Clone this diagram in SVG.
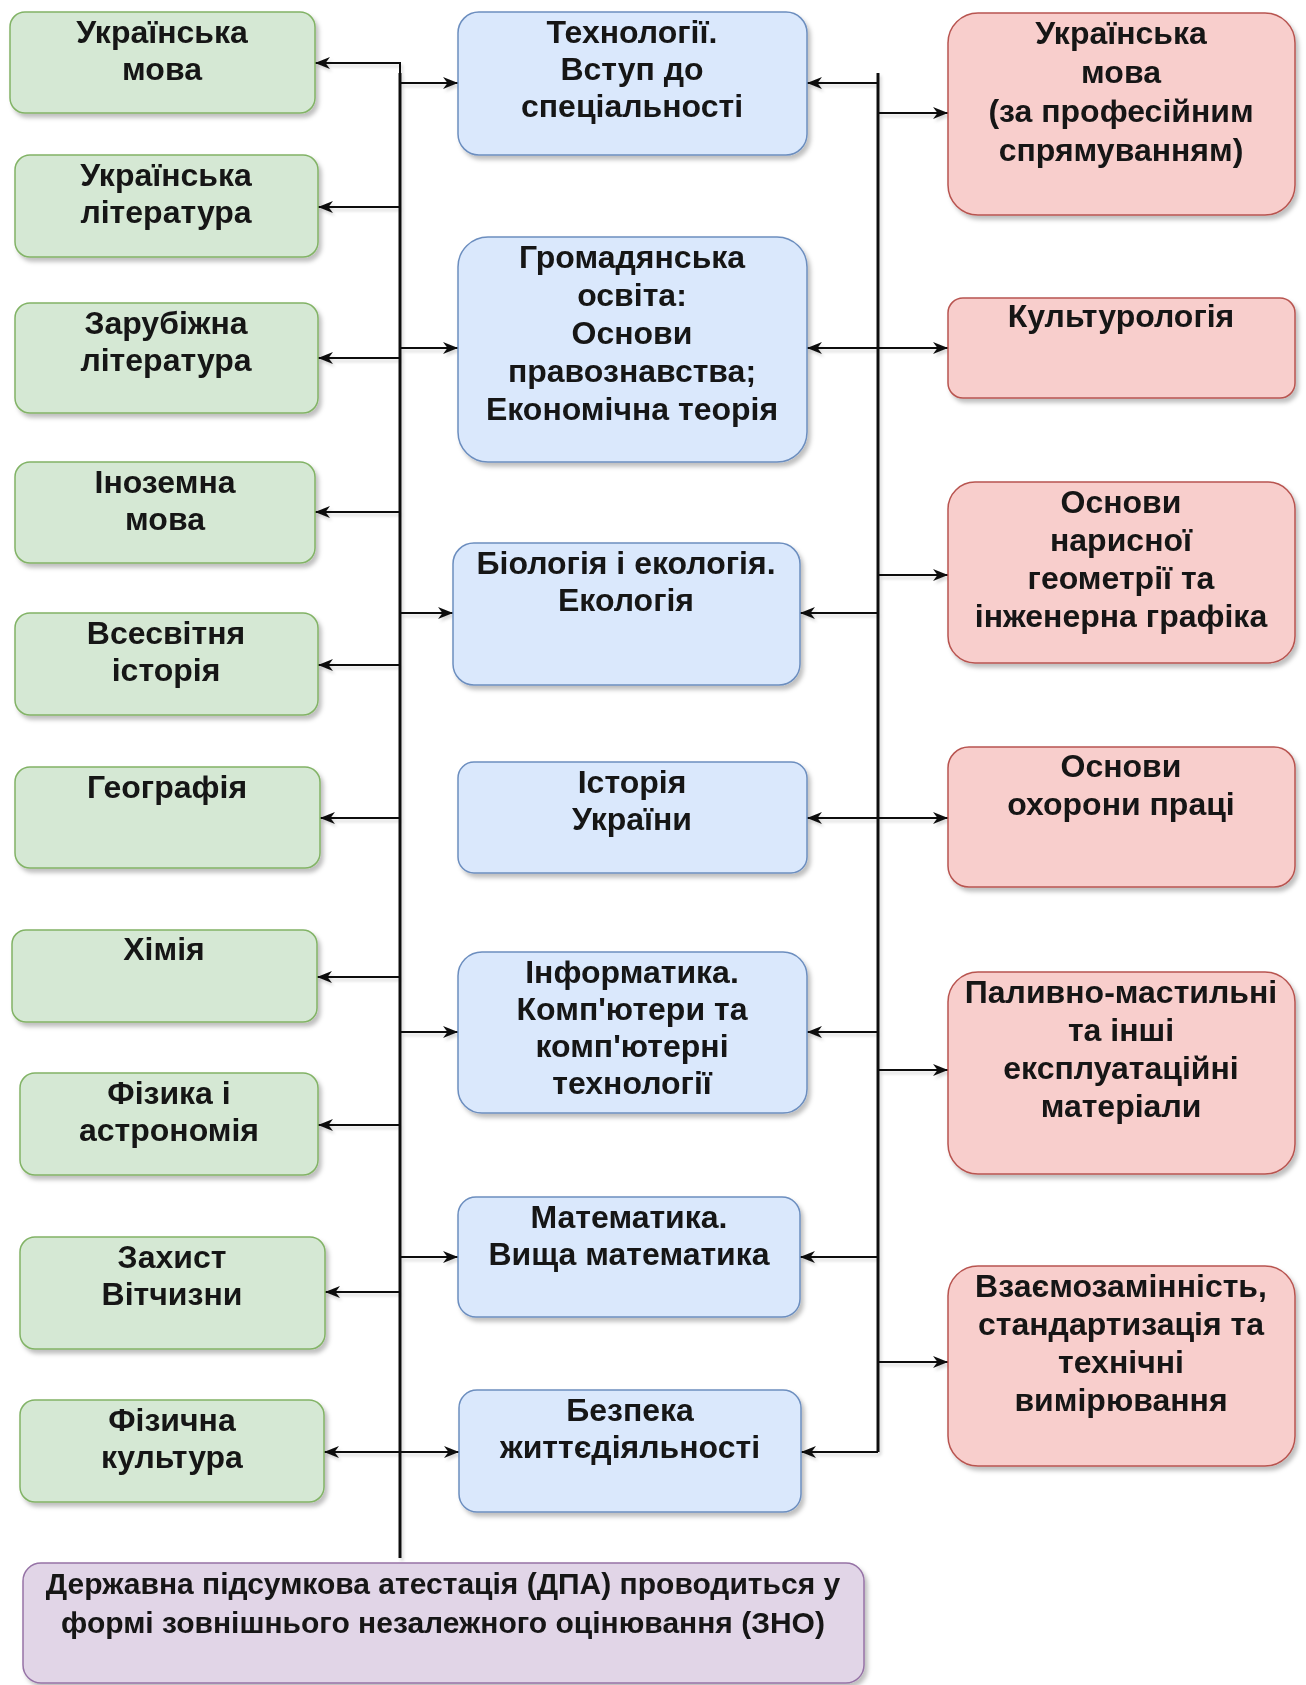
<svg xmlns="http://www.w3.org/2000/svg" width="1306" height="1685" viewBox="0 0 1306 1685">
<style>
text{font-family:"Liberation Sans",Arial,sans-serif;font-weight:bold;font-size:32px;fill:#151515;text-anchor:middle}
.g{fill:#d5e8d4;stroke:#82b366;stroke-width:1.5}
.b{fill:#dae8fc;stroke:#6c8ebf;stroke-width:1.5}
.p{fill:#f8cecc;stroke:#b85450;stroke-width:1.5}
.v{fill:#e1d5e7;stroke:#9673a6;stroke-width:1.5}
.bus{fill:none;stroke:#111;stroke-width:3}
.c{fill:none;stroke:#111;stroke-width:2;marker-end:url(#ah)}
.d{fill:none;stroke:#111;stroke-width:2;marker-start:url(#ah);marker-end:url(#ah)}
.n{filter:url(#sh)}
</style>
<defs>
<filter id="sh" x="-10%" y="-10%" width="125%" height="130%"><feDropShadow dx="3" dy="4" stdDeviation="2" flood-color="#000" flood-opacity="0.25"/></filter>
<filter id="lsh" x="-5%" y="-5%" width="110%" height="110%"><feDropShadow dx="2" dy="3" stdDeviation="1.5" flood-color="#000" flood-opacity="0.15"/></filter>
<marker id="ah" viewBox="0 0 15 12" refX="15" refY="6" markerWidth="15" markerHeight="12" markerUnits="userSpaceOnUse" orient="auto-start-reverse"><path d="M0,0 L15,6 L0,12 L4.5,6 z" fill="#111"/></marker>
</defs>
<rect width="1306" height="1685" fill="#fff"/>

<g id="connectors" filter="url(#lsh)">
<path class="bus" d="M400,73 V1558"/>
<path class="c" d="M400,75 V63 H315"/>
<path class="c" d="M400,207 H318"/>
<path class="c" d="M400,358 H318"/>
<path class="c" d="M400,512 H315"/>
<path class="c" d="M400,665 H318"/>
<path class="c" d="M400,818 H320"/>
<path class="c" d="M400,977 H317"/>
<path class="c" d="M400,1125 H318"/>
<path class="c" d="M400,1292 H325"/>
<path class="d" d="M324,1452 H459"/>
<path class="c" d="M400,83 H458"/>
<path class="c" d="M400,348 H458"/>
<path class="c" d="M400,613 H453"/>
<path class="c" d="M400,1032 H458"/>
<path class="c" d="M400,1257 H458"/>
<path class="bus" d="M878,73 V1452"/>
<path class="c" d="M878,1452 H801"/>
<path class="c" d="M878,83 H807"/>
<path class="c" d="M878,613 H800"/>
<path class="c" d="M878,1032 H807"/>
<path class="c" d="M878,1257 H800"/>
<path class="d" d="M807,348 H948"/>
<path class="d" d="M807,818 H948"/>
<path class="c" d="M878,113 H948"/>
<path class="c" d="M878,575 H948"/>
<path class="c" d="M878,1070 H948"/>
<path class="c" d="M878,1362 H948"/>
</g>

<g id="g1" class="n"><rect class="g" x="10" y="12" width="305" height="101" rx="15"/><text x="162" y="43">Українська</text><text x="162" y="80">мова</text></g>
<g id="g2" class="n"><rect class="g" x="15" y="155" width="303" height="102" rx="15"/><text x="166" y="186">Українська</text><text x="166" y="223">література</text></g>
<g id="g3" class="n"><rect class="g" x="15" y="303" width="303" height="110" rx="15"/><text x="166" y="334">Зарубіжна</text><text x="166" y="371">література</text></g>
<g id="g4" class="n"><rect class="g" x="15" y="462" width="300" height="101" rx="15"/><text x="165" y="493">Іноземна</text><text x="165" y="530">мова</text></g>
<g id="g5" class="n"><rect class="g" x="15" y="613" width="303" height="102" rx="15"/><text x="166" y="644">Всесвітня</text><text x="166" y="681">історія</text></g>
<g id="g6" class="n"><rect class="g" x="15" y="767" width="305" height="101" rx="15"/><text x="167" y="798">Географія</text></g>
<g id="g7" class="n"><rect class="g" x="12" y="930" width="305" height="92" rx="14"/><text x="164" y="960">Хімія</text></g>
<g id="g8" class="n"><rect class="g" x="20" y="1073" width="298" height="102" rx="15"/><text x="169" y="1104">Фізика і</text><text x="169" y="1141">астрономія</text></g>
<g id="g9" class="n"><rect class="g" x="20" y="1237" width="305" height="112" rx="15"/><text x="172" y="1268">Захист</text><text x="172" y="1305">Вітчизни</text></g>
<g id="g10" class="n"><rect class="g" x="20" y="1400" width="304" height="102" rx="15"/><text x="172" y="1431">Фізична</text><text x="172" y="1468">культура</text></g>

<g id="b1" class="n"><rect class="b" x="458" y="12" width="349" height="143" rx="21"/><text x="632" y="43">Технології.</text><text x="632" y="80">Вступ до</text><text x="632" y="117">спеціальності</text></g>
<g id="b2" class="n"><rect class="b" x="458" y="237" width="349" height="225" rx="30"/><text x="632" y="268">Громадянська</text><text x="632" y="306">освіта:</text><text x="632" y="344">Основи</text><text x="632" y="382">правознавства;</text><text x="632" y="420">Економічна теорія</text></g>
<g id="b3" class="n"><rect class="b" x="453" y="543" width="347" height="142" rx="21"/><text x="626" y="574">Біологія і екологія.</text><text x="626" y="611">Екологія</text></g>
<g id="b4" class="n"><rect class="b" x="458" y="762" width="349" height="111" rx="16"/><text x="632" y="793">Історія</text><text x="632" y="830">України</text></g>
<g id="b5" class="n"><rect class="b" x="458" y="952" width="349" height="161" rx="24"/><text x="632" y="983">Інформатика.</text><text x="632" y="1020">Комп'ютери та</text><text x="632" y="1057">комп'ютерні</text><text x="632" y="1094">технології</text></g>
<g id="b6" class="n"><rect class="b" x="458" y="1197" width="342" height="120" rx="18"/><text x="629" y="1228">Математика.</text><text x="629" y="1265">Вища математика</text></g>
<g id="b7" class="n"><rect class="b" x="459" y="1390" width="342" height="122" rx="18"/><text x="630" y="1421">Безпека</text><text x="630" y="1458">життєдіяльності</text></g>

<g id="p1" class="n"><rect class="p" x="948" y="13" width="347" height="202" rx="30"/><text x="1121" y="44">Українська</text><text x="1121" y="83">мова</text><text x="1121" y="122">(за професійним</text><text x="1121" y="161">спрямуванням)</text></g>
<g id="p2" class="n"><rect class="p" x="948" y="298" width="347" height="100" rx="15"/><text x="1121" y="327">Культурологія</text></g>
<g id="p3" class="n"><rect class="p" x="948" y="482" width="347" height="181" rx="27"/><text x="1121" y="513">Основи</text><text x="1121" y="551">нарисної</text><text x="1121" y="589">геометрії та</text><text x="1121" y="627">інженерна графіка</text></g>
<g id="p4" class="n"><rect class="p" x="948" y="747" width="347" height="140" rx="21"/><text x="1121" y="777">Основи</text><text x="1121" y="815">охорони праці</text></g>
<g id="p5" class="n"><rect class="p" x="948" y="972" width="347" height="202" rx="30"/><text x="1121" y="1003">Паливно-мастильні</text><text x="1121" y="1041">та інші</text><text x="1121" y="1079">експлуатаційні</text><text x="1121" y="1117">матеріали</text></g>
<g id="p6" class="n"><rect class="p" x="948" y="1266" width="347" height="200" rx="30"/><text x="1121" y="1297">Взаємозамінність,</text><text x="1121" y="1335">стандартизація та</text><text x="1121" y="1373">технічні</text><text x="1121" y="1411">вимірювання</text></g>

<g id="v1" class="n"><rect class="v" x="23" y="1563" width="841" height="120" rx="18"/><text x="443" y="1594" style="font-size:30px">Державна підсумкова атестація (ДПА) проводиться у</text><text x="443" y="1633" style="font-size:30px">формі зовнішнього незалежного оцінювання (ЗНО)</text></g>
</svg>
